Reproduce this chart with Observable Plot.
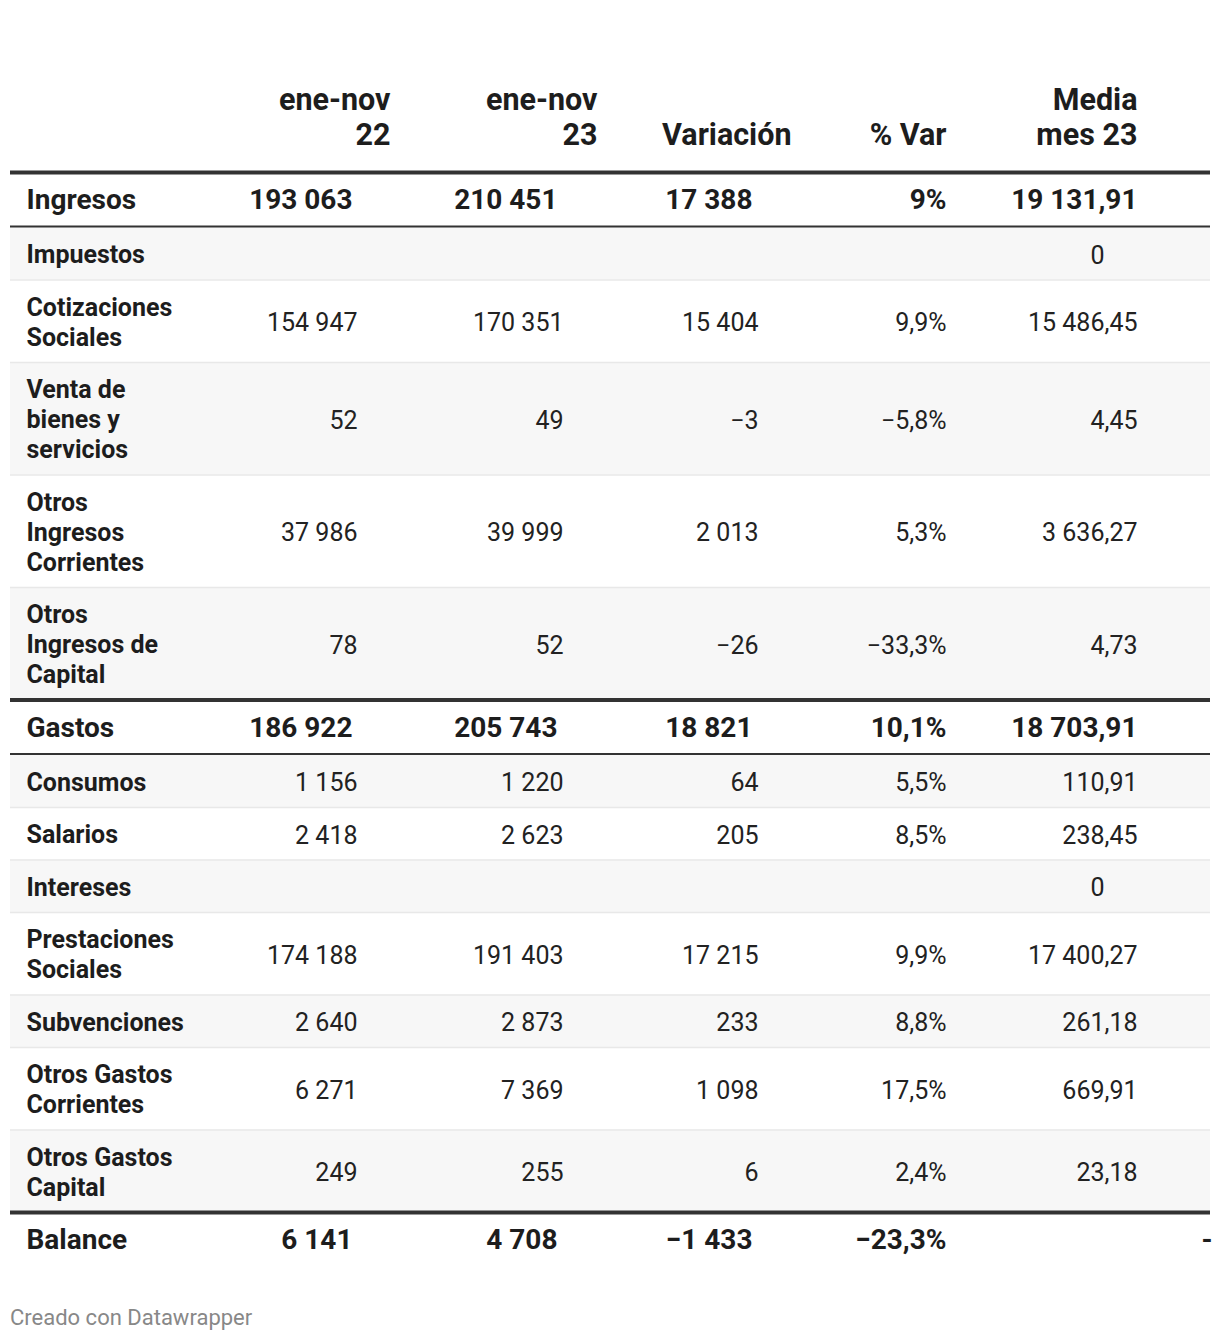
<!DOCTYPE html>
<html><head><meta charset="utf-8">
<script src="https://cdn.jsdelivr.net/npm/d3@7"></script>
<script src="https://cdn.jsdelivr.net/npm/@observablehq/plot@0.6"></script>
<style>
html,body{margin:0;padding:0;background:#fff;}
#chart svg{display:block;}
#caption{font-family:Roboto,sans-serif;font-size:22px;line-height:24px;color:#888;padding:10px 0 0 10px;}
</style></head><body>
<div id="chart"></div>
<div id="caption">Creado con Datawrapper</div>
<script>
// ---- data ----
const categories = ["Ingresos","Impuestos","Cotizaciones\nSociales","Venta de\nbienes y\nservicios","Otros\nIngresos\nCorrientes","Otros\nIngresos de\nCapital","Gastos","Consumos","Salarios","Intereses","Prestaciones\nSociales","Subvenciones","Otros Gastos\nCorrientes","Otros Gastos\nCapital","Balance"];
const isTotal = [true,false,false,false,false,false,true,false,false,false,false,false,false,false,true];
const eneNov22 = [193063,null,154947,52,37986,78,186922,1156,2418,null,174188,2640,6271,249,6141];
const eneNov23 = [210451,null,170351,49,39999,52,205743,1220,2623,null,191403,2873,7369,255,4708];
const variacion = [17388,null,15404,-3,2013,-26,18821,64,205,null,17215,233,1098,6,-1433];
const pctVar = [9,null,9.9,-5.8,5.3,-33.3,10.1,5.5,8.5,null,9.9,8.8,17.5,2.4,-23.3];
const mediaMes23 = [19131.91,0,15486.45,4.45,3636.27,4.73,18703.91,110.91,238.45,0,17400.27,261.18,669.91,23.18,null];
const headerTop = ["ene-nov","ene-nov","","","Media"];
const headerBottom = ["22","23","Variación","% Var","mes 23"];
const missingText = "-";

// ---- layout / style ----
const W = 1220, H = 1296;
const L = {
  labelX: 26,
  headRight: [390,597,791,946,1137],
  bodyRight: [357,563,758,946,1137],
  totalRight: [352,557,752,946,1137],
  zeroRight: 1104,
  missingX: 1212,
  headY: [100,135],
  start: 172, lineH: 30, pad: 22.5, totalH: 54
};
const FONT = "Roboto, sans-serif";
const INK = "#1d1d1d";

const loc = d3.formatLocale({decimal: ",", thousands: " ", grouping: [3], currency: ["", ""], minus: "\u2212"});
const fInt = loc.format(",d");
const fPct = v => loc.format(",.1~f")(v) + "%";
const fMed = v => v === 0 ? "0" : loc.format(",.2f")(v);
const formatters = [fInt, fInt, fInt, fPct, fMed];
const columns = [eneNov22, eneNov23, variacion, pctVar, mediaMes23];

// compute row geometry from the number of label lines
const rows = [];
const thick = [], thin = [], seps = [], stripes = [];
let y = L.start, k = 0;
categories.forEach((c, i) => {
  if (isTotal[i]) {
    thick.push({y});
    const center = y + 28;
    rows.push({i, label: c, center, total: true});
    if (i < categories.length - 1) thin.push({y: y + L.totalH});
    y = y + L.totalH + 1;
    k = 0;
  } else {
    const n = c.split("\n").length;
    const h = L.pad + L.lineH * n;
    if (k % 2 === 0) stripes.push({y1: y, y2: y + h});
    if (k > 0) seps.push({y});
    rows.push({i, label: c, center: y + h / 2, total: false});
    y += h; k++;
  }
});

const cells = [];
rows.forEach(r => {
  columns.forEach((col, j) => {
    const v = col[r.i];
    if (v == null) {
      if (j === 4 && r.i === categories.length - 1) cells.push({x: L.missingX, y: r.center, text: missingText, total: true});
      return;
    }
    let x = (r.total ? L.totalRight : L.bodyRight)[j];
    if (j === 4 && v === 0) x = L.zeroRight; // decimal alignment
    cells.push({x, y: r.center, text: formatters[j](v), total: r.total});
  });
});
const heads = [];
headerTop.forEach((t, j) => { if (t) heads.push({x: L.headRight[j], y: L.headY[0], text: t}); });
headerBottom.forEach((t, j) => heads.push({x: L.headRight[j], y: L.headY[1], text: t}));

const chart = Plot.plot({
  width: W, height: H,
  marginLeft: 10, marginRight: 10, marginTop: 0, marginBottom: 0,
  x: {domain: [10, W - 10], axis: null},
  y: {domain: [0, H], range: [0, H], axis: null},
  style: {fontFamily: FONT, background: "#fff"},
  marks: [
    Plot.rect(stripes, {y1: "y1", y2: "y2", fill: "#f7f7f7"}),
    Plot.ruleY(seps, {y: "y", stroke: "#e8e8e8", strokeWidth: 1.5}),
    Plot.ruleY(thin, {y: "y", stroke: "#333", strokeWidth: 2}),
    Plot.ruleY(thick, {y: "y", stroke: "#333", strokeWidth: 4}),
    Plot.text(heads, {x: "x", y: "y", text: "text", textAnchor: "end", lineAnchor: "middle", fontSize: 30.5, fontWeight: "bold", fill: INK}),
    Plot.text(rows.filter(r => r.total), {x: () => L.labelX, y: "center", text: "label", textAnchor: "start", lineAnchor: "middle", fontSize: 28, fontWeight: "bold", fill: INK}),
    Plot.text(rows.filter(r => !r.total), {x: () => L.labelX, y: "center", text: "label", textAnchor: "start", lineAnchor: "middle", fontSize: 25, lineHeight: 1.2, fontWeight: "bold", fill: INK}),
    Plot.text(cells.filter(c => c.total), {x: "x", y: "y", text: "text", textAnchor: "end", lineAnchor: "middle", fontSize: 28, fontWeight: "bold", fill: INK}),
    Plot.text(cells.filter(c => !c.total), {x: "x", y: "y", text: "text", textAnchor: "end", lineAnchor: "middle", dy: 2, fontSize: 25, fill: "#222"})
  ]
});
document.getElementById("chart").appendChild(chart);
</script>
</body></html>
